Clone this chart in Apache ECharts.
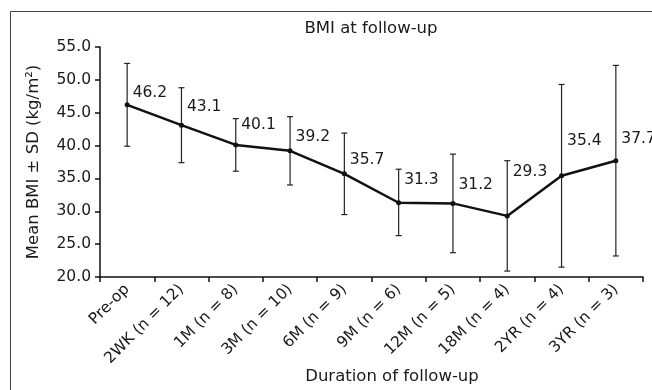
<!DOCTYPE html>
<html>
<head>
<meta charset="utf-8">
<script src="https://cdn.jsdelivr.net/npm/echarts@6/dist/echarts.min.js"></script>
<style>
  html, body { margin: 0; padding: 0; background: #fff; }
  #chart { width: 652px; height: 390px; }
</style>
</head>
<body>
<div id="chart"></div>
<script>
// ---- data ----
var categories = ['Pre-op', '2WK (n = 12)', '1M (n = 8)', '3M (n = 10)', '6M (n = 9)',
                  '9M (n = 6)', '12M (n = 5)', '18M (n = 4)', '2YR (n = 4)', '3YR (n = 3)'];
var meanBMI = [46.2, 43.1, 40.1, 39.2, 35.7, 31.3, 31.2, 29.3, 35.4, 37.7];
var upperSD = [52.5, 48.8, 44.1, 44.4, 41.9, 36.4, 38.7, 37.7, 49.3, 52.2];
var lowerSD = [39.9, 37.4, 36.1, 34.0, 29.5, 26.3, 23.7, 20.9, 21.5, 23.2];
var yTicks = { min: 20, max: 55, interval: 5 };

// ---- label nudges (style only) ----
var labelDy = [-12, -18, -20, -14, -14, -23, -18, -44, -35, -22];

var FONT = '"DejaVu Sans", Verdana, sans-serif';
var chart = echarts.init(document.getElementById('chart'), null, { renderer: 'canvas' });

var errData = categories.map(function (c, i) { return [i, lowerSD[i], upperSD[i]]; });
var lineData = meanBMI.map(function (v, i) {
  return {
    value: v,
    label: { offset: [0, labelDy[i]] }
  };
});

var option = {
  backgroundColor: '#fff',
  animation: false,
  grid: { left: 100, right: 9, top: 47, bottom: 113, containLabel: false },
  graphic: [
    { type: 'rect', shape: { x: 10.5, y: 11.5, width: 700, height: 500 },
      style: { fill: 'none', stroke: '#444', lineWidth: 1 }, silent: true },
    { type: 'text', x: 371, y: 29,
      style: { text: 'BMI at follow-up', font: '16.5px ' + FONT, fill: '#1a1a1a', align: 'center', verticalAlign: 'middle' } },
    { type: 'text', x: 392, y: 377,
      style: { text: 'Duration of follow-up', font: '16.5px ' + FONT, fill: '#1a1a1a', align: 'center', verticalAlign: 'middle' } }
  ],
  xAxis: {
    type: 'category',
    data: categories,
    boundaryGap: true,
    axisLine: { show: true, lineStyle: { color: '#111', width: 1.5 } },
    axisTick: { show: true, alignWithLabel: false, length: 5, lineStyle: { color: '#111', width: 1.5 } },
    axisLabel: { rotate: 45, interval: 0, margin: 10, color: '#1a1a1a', fontSize: 15.5, fontFamily: FONT },
    splitLine: { show: false }
  },
  yAxis: {
    type: 'value',
    min: yTicks.min, max: yTicks.max, interval: yTicks.interval,
    name: 'Mean BMI ± SD (kg/m²)',
    nameLocation: 'middle',
    nameGap: 58,
    nameRotate: 90,
    nameTextStyle: { fontSize: 16.5, fontFamily: FONT, color: '#1a1a1a' },
    axisLine: { show: true, lineStyle: { color: '#111', width: 1.5 } },
    axisTick: { show: true, inside: false, length: 5, lineStyle: { color: '#111', width: 1.5 } },
    axisLabel: { margin: 9, color: '#1a1a1a', fontSize: 15.5, fontFamily: FONT,
                 formatter: function (v) { return v.toFixed(1); } },
    splitLine: { show: false }
  },
  series: [
    {
      type: 'custom',
      name: 'SD',
      data: errData,
      z: 1,
      renderItem: function (params, api) {
        var x = api.value(0);
        var lo = api.coord([x, api.value(1)]);
        var hi = api.coord([x, api.value(2)]);
        var cw = 3;
        var st = { stroke: '#222', lineWidth: 1.2 };
        return {
          type: 'group',
          children: [
            { type: 'line', shape: { x1: hi[0], y1: hi[1], x2: lo[0], y2: lo[1] }, style: st },
            { type: 'line', shape: { x1: hi[0] - cw, y1: hi[1], x2: hi[0] + cw, y2: hi[1] }, style: st },
            { type: 'line', shape: { x1: lo[0] - cw, y1: lo[1], x2: lo[0] + cw, y2: lo[1] }, style: st }
          ]
        };
      }
    },
    {
      type: 'line',
      name: 'Mean BMI',
      data: lineData,
      z: 3,
      symbol: 'circle',
      symbolSize: 5,
      itemStyle: { color: '#111' },
      lineStyle: { color: '#111', width: 2.5 },
      label: {
        show: true,
        position: 'right',
        distance: 3,
        color: '#1a1a1a',
        fontSize: 15.5,
        fontFamily: FONT,
        formatter: function (p) { return p.value.toFixed(1); }
      }
    }
  ]
};
chart.setOption(option);
</script>
</body>
</html>
